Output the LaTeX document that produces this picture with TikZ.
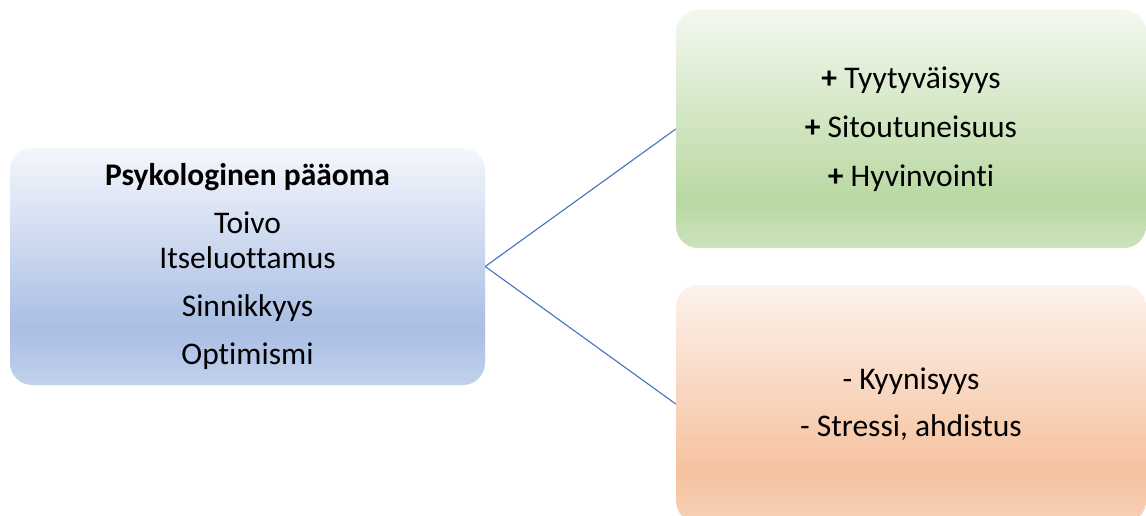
\documentclass[tikz,border=0pt]{standalone}
\usepackage{fontspec}
\setmainfont{Carlito}[Ligatures=NoCommon]
\definecolor{bluetop}{HTML}{F4F7FC}
\definecolor{bluemid}{HTML}{A9BEE4}
\definecolor{bluebot}{HTML}{C2D1EC}
\definecolor{greentop}{HTML}{F3F8EF}
\definecolor{greenmid}{HTML}{B9D8A2}
\definecolor{greenbot}{HTML}{CCE3BC}
\definecolor{orangetop}{HTML}{FDF2EC}
\definecolor{orangemid}{HTML}{F5C29F}
\definecolor{orangebot}{HTML}{F8D1B7}
\definecolor{linkblue}{HTML}{4472C4}
% office style three stop fades (path maps to 25bp..75bp)
\pgfdeclareverticalshading{bluefade}{100bp}{color(0bp)=(bluebot); color(25bp)=(bluebot);
  color(37bp)=(bluemid); color(75bp)=(bluetop); color(100bp)=(bluetop)}
\pgfdeclareverticalshading{greenfade}{100bp}{color(0bp)=(greenbot); color(25bp)=(greenbot);
  color(35bp)=(greenmid); color(75bp)=(greentop); color(100bp)=(greentop)}
\pgfdeclareverticalshading{orangefade}{100bp}{color(0bp)=(orangebot); color(25bp)=(orangebot);
  color(36bp)=(orangemid); color(75bp)=(orangetop); color(100bp)=(orangetop)}
\tikzset{
  capbox/.style={rectangle, rounded corners=22pt, minimum width=475pt,
    minimum height=237pt, inner sep=0pt, align=center,
    font=\fontsize{31.5}{35}\selectfont},
  link/.style={draw=linkblue, line width=1.1pt}
}
\begin{document}
\begin{tikzpicture}[x=1pt, y=-1pt]
\clip (0,0) rectangle (1146,516);
\fill[white] (0,0) rectangle (1146,516);
\node[capbox, shading=bluefade] (paaoma) at (247.5,266.5)
  {\textbf{Psykologinen pääoma}\\[13pt] Toivo\\ Itseluottamus\\[13pt]
   Sinnikkyys\\[13pt] Optimismi};
\node[capbox, minimum width=470pt, minimum height=238pt, shading=greenfade] (hyvat) at (911,129)
  {\textbf{+} Tyytyväisyys\\[14pt] \textbf{+} Sitoutuneisuus\\[14pt] \textbf{+} Hyvinvointi};
\node[capbox, minimum width=470pt, minimum height=238pt, shading=orangefade] (huonot) at (911,404)
  {- Kyynisyys\\[12pt] - Stressi, ahdistus};
\draw[link] (paaoma.east) -- (hyvat.west);
\draw[link] (paaoma.east) -- (huonot.west);
\end{tikzpicture}
\end{document}
